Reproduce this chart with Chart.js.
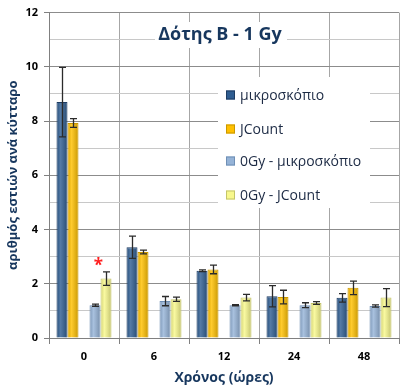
<!DOCTYPE html>
<html>
<head>
<meta charset="utf-8">
<script src="https://cdn.jsdelivr.net/npm/chart.js@4.4.1/dist/chart.umd.min.js"></script>
<style>
  html, body { margin: 0; padding: 0; background: #fff; }
  #wrap { width: 402px; height: 391px; position: relative; }
</style>
</head>
<body>
<div id="wrap"><canvas id="chart"></canvas></div>
<script>
// --- data ---
const categories = ['0', '6', '12', '24', '48'];
const microscope = [8.7, 3.35, 2.48, 1.54, 1.48];
const microscopeErr = [1.28, 0.41, 0.03, 0.39, 0.16];
const jcount = [7.93, 3.17, 2.53, 1.51, 1.85];
const jcountErr = [0.16, 0.07, 0.16, 0.25, 0.25];
const ctrlMicroscope = [1.21, 1.36, 1.21, 1.21, 1.18];
const ctrlMicroscopeErr = [0.04, 0.17, 0.02, 0.09, 0.04];
const ctrlJcount = [2.19, 1.43, 1.49, 1.29, 1.49];
const ctrlJcountErr = [0.25, 0.08, 0.12, 0.05, 0.33];
const seriesNames = ['μικροσκόπιο', 'JCount', '0Gy - μικροσκόπιο', '0Gy - JCount'];
const yMax = 12;
// red asterisk: category index and y value
const starCategory = 0;
const starValue = 2.8;

const fillColors = ['#2f5d91', '#ffc000', '#95b3d7', '#f8f88c'];
const edgeColors = ['#1e3c62', '#c99700', '#6f8fb5', '#c4c46a'];
const FONT = "'Open Sans', 'Noto Sans', sans-serif";

const makeSet = (i, data, err) => ({
    label: seriesNames[i],
    data: data,
    errors: err,
    backgroundColor: fillColors[i],
    borderColor: edgeColors[i],
    borderWidth: 1,
    borderSkipped: 'bottom'
});

const datasets = [
    makeSet(0, microscope, microscopeErr),
    makeSet(1, jcount, jcountErr),
    { label: '', data: [], spacer: true }, // gap between the two pairs
    makeSet(2, ctrlMicroscope, ctrlMicroscopeErr),
    makeSet(3, ctrlJcount, ctrlJcountErr)
];

// --- shading + error bars ---
const barExtras = {
    id: 'barExtras',
    afterDatasetsDraw(chart) {
        const ctx = chart.ctx;
        const y = chart.scales.y;
        chart.data.datasets.forEach((ds, di) => {
            if (ds.spacer) return;
            const meta = chart.getDatasetMeta(di);
            meta.data.forEach((bar, i) => {
                const left = bar.x - bar.width / 2;
                const g = ctx.createLinearGradient(left, 0, left + bar.width, 0);
                g.addColorStop(0, 'rgba(0,0,0,0.12)');
                g.addColorStop(0.35, 'rgba(255,255,255,0.18)');
                g.addColorStop(1, 'rgba(0,0,0,0.22)');
                ctx.save();
                ctx.fillStyle = g;
                ctx.fillRect(left + 1, bar.y + 1, bar.width - 2, bar.base - bar.y - 1);
                ctx.restore();
            });
        });
        ctx.save();
        ctx.strokeStyle = '#2b2b2b';
        ctx.lineWidth = 1.3;
        chart.data.datasets.forEach((ds, di) => {
            if (!ds.errors) return;
            const meta = chart.getDatasetMeta(di);
            meta.data.forEach((bar, i) => {
                const v = ds.data[i], e = ds.errors[i];
                const top = y.getPixelForValue(v + e);
                const bot = y.getPixelForValue(v - e);
                const x = Math.round(bar.x) + 0.5;
                ctx.beginPath();
                ctx.moveTo(x, top); ctx.lineTo(x, bot);
                ctx.moveTo(x - 3.5, top); ctx.lineTo(x + 3.5, top);
                ctx.moveTo(x - 3.5, bot); ctx.lineTo(x + 3.5, bot);
                ctx.stroke();
            });
        });
        ctx.restore();

        // significance asterisk
        const a = chart.getDatasetMeta(3).data[starCategory];
        const b = chart.getDatasetMeta(4).data[starCategory];
        ctx.save();
        ctx.fillStyle = '#ff2020';
        ctx.font = 'bold 17px ' + FONT;
        ctx.textAlign = 'center';
        ctx.textBaseline = 'middle';
        ctx.fillText('*', (a.x + b.x) / 2 - 2, y.getPixelForValue(starValue) + 4);
        ctx.restore();
    },
    afterDraw(chart) {
        const ctx = chart.ctx;
        ctx.save();
        // title box inside plot
        ctx.fillStyle = '#fff';
        ctx.fillRect(155, 22, 132, 26);
        ctx.fillStyle = '#17375e';
        ctx.font = 'bold 18px ' + FONT;
        ctx.textAlign = 'center';
        ctx.textBaseline = 'middle';
        ctx.fillText('Δότης Β - 1 Gy', 220, 35);

        // legend box
        ctx.fillStyle = '#fff';
        ctx.fillRect(218, 77, 152, 131);
        ctx.font = '14px ' + FONT;
        ctx.textAlign = 'left';
        const rows = [95, 129, 161, 195];
        seriesNames.forEach((name, i) => {
            const cy = rows[i];
            ctx.fillStyle = fillColors[i];
            ctx.fillRect(226, cy - 4.5, 9, 9);
            ctx.strokeStyle = edgeColors[i];
            ctx.lineWidth = 1;
            ctx.strokeRect(226.5, cy - 4, 8, 8);
            ctx.fillStyle = '#1c2a44';
            ctx.fillText(name, 240, cy + 1);
        });
        ctx.restore();
    }
};

new Chart(document.getElementById('chart'), {
    type: 'bar',
    data: { labels: categories, datasets: datasets },
    options: {
        responsive: true,
        maintainAspectRatio: false,
        animation: false,
        layout: { padding: { top: 5, right: 3, left: 0, bottom: 0 } },
        datasets: { bar: { categoryPercentage: 0.786, barPercentage: 1.0 } },
        plugins: { legend: { display: false }, tooltip: { enabled: false } },
        scales: {
            x: {
                offset: true,
                grid: { offset: true, color: '#a6a6a6', tickLength: 6, tickColor: '#808080' },
                border: { color: '#808080' },
                ticks: { color: '#000', padding: 6, font: { family: FONT, size: 11, weight: 'bold' } },
                title: {
                    display: true, text: 'Χρόνος (ώρες)', color: '#17375e',
                    font: { family: FONT, size: 14, weight: 'bold' },
                    padding: { top: 0, bottom: 5 }
                },
                afterFit(scale) { scale.height = 53; }
            },
            y: {
                min: 0, max: yMax,
                ticks: {
                    stepSize: 0.5, color: '#000', padding: 6,
                    font: { family: FONT, size: 11, weight: 'bold' },
                    callback: v => (v % 2 === 0 ? v : '')
                },
                grid: {
                    color: c => (c.tick && c.tick.value % 2 === 0 ? '#8c8c8c' : '#c8c8c8'),
                    tickColor: c => (c.tick && c.tick.value % 2 === 0 ? '#808080' : 'rgba(0,0,0,0)'),
                    tickLength: 5
                },
                border: { color: '#808080' },
                title: {
                    display: true, text: 'αριθμός εστιών ανά κύτταρο', color: '#17375e',
                    font: { family: FONT, size: 13, weight: 'bold' },
                    padding: { top: 5, bottom: 0 }
                },
                afterFit(scale) { scale.width = 49; }
            }
        }
    },
    plugins: [barExtras]
});
</script>
</body>
</html>
